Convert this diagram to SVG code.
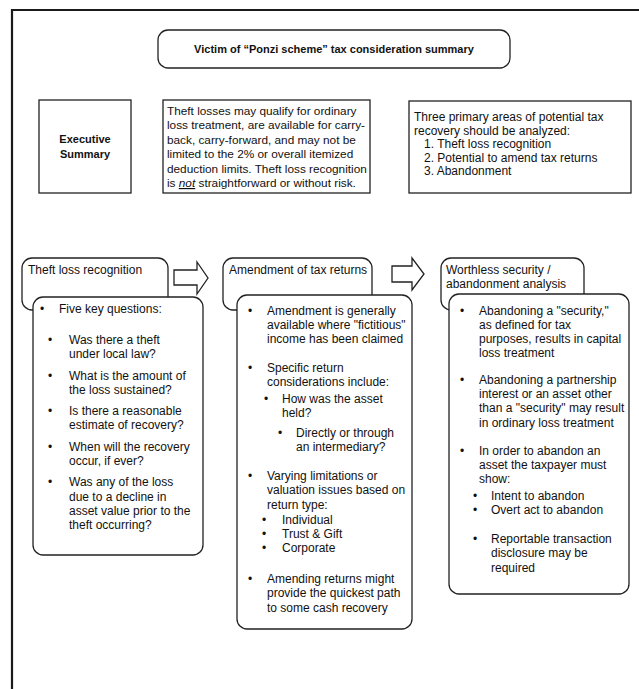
<svg xmlns="http://www.w3.org/2000/svg" width="639" height="689" viewBox="0 0 639 689">
<style>
  .frame{fill:none;stroke:#1a1a1a;stroke-width:2.2}
  .box{fill:#fff;stroke:#222;stroke-width:1.3}
  .t{font-family:"Liberation Sans",Arial,sans-serif;font-size:12px;fill:#111}
  .b{font-family:"Liberation Sans",Arial,sans-serif;font-size:11px;font-weight:bold;fill:#111}
  .arrow{fill:#fff;stroke:#222;stroke-width:1.3;stroke-linejoin:miter}
</style>
<rect width="639" height="689" fill="#fff"/>
<path class="frame" d="M12,689 V10 H639"/>

<g id="title">
  <rect class="box" x="158" y="30" width="352" height="38" rx="10"/>
  <text class="b" x="334" y="53" text-anchor="middle">Victim of “Ponzi scheme” tax consideration summary</text>
</g>

<g id="exec-summary">
  <rect class="box" x="39" y="100" width="92" height="93"/>
  <text class="b" x="85" y="143" text-anchor="middle">Executive</text>
  <text class="b" x="85" y="158" text-anchor="middle">Summary</text>
</g>

<g id="exec-text">
  <rect class="box" x="163" y="100" width="207" height="93"/>
  <text class="t" style="font-size:11.8px">
    <tspan x="167" y="115">Theft losses may qualify for ordinary</tspan>
    <tspan x="167" y="129.4">loss treatment, are available for carry-</tspan>
    <tspan x="167" y="143.8">back, carry-forward, and may not be</tspan>
    <tspan x="167" y="158.2">limited to the 2% or overall itemized</tspan>
    <tspan x="167" y="172.6">deduction limits. Theft loss recognition</tspan>
    <tspan x="167" y="187">is <tspan font-style="italic" text-decoration="underline">not</tspan> straightforward or without risk.</tspan>
  </text>
</g>

<g id="exec-areas">
  <rect class="box" x="409" y="101" width="222" height="92"/>
  <text class="t">
    <tspan x="414" y="121">Three primary areas of potential tax</tspan>
    <tspan x="414" y="134.5">recovery should be analyzed:</tspan>
    <tspan x="424" y="148">1. Theft loss recognition</tspan>
    <tspan x="424" y="161.5">2. Potential to amend tax returns</tspan>
    <tspan x="424" y="175">3. Abandonment</tspan>
  </text>
</g>

<g id="connectors">
  <path id="arrow-1" class="arrow" d="M174,270 H197 V262 L208,278 L197,294 V285 H174 Z"/>
  <path id="arrow-2" class="arrow" d="M392,266 H412 V258 L424,274 L412,290 V282 H392 Z"/>
</g>

<g id="theft-loss">
  <rect class="box" x="22" y="258" width="146" height="52" rx="10"/>
  <text class="t" x="28" y="274">Theft loss recognition</text>
  <rect class="box" x="33" y="297" width="170" height="258" rx="10"/>
  <text class="t">
    <tspan x="40" y="313">•</tspan><tspan x="59" y="313">Five key questions:</tspan>
    <tspan x="48" y="344">•</tspan><tspan x="69" y="344">Was there a theft</tspan>
    <tspan x="69" y="358">under local law?</tspan>
    <tspan x="48" y="380">•</tspan><tspan x="69" y="380">What is the amount of</tspan>
    <tspan x="69" y="394">the loss sustained?</tspan>
    <tspan x="48" y="415">•</tspan><tspan x="69" y="415">Is there a reasonable</tspan>
    <tspan x="69" y="429">estimate of recovery?</tspan>
    <tspan x="48" y="451">•</tspan><tspan x="69" y="451">When will the recovery</tspan>
    <tspan x="69" y="465">occur, if ever?</tspan>
    <tspan x="48" y="486">•</tspan><tspan x="69" y="486">Was any of the loss</tspan>
    <tspan x="69" y="501">due to a decline in</tspan>
    <tspan x="69" y="515">asset value prior to the</tspan>
    <tspan x="69" y="529">theft occurring?</tspan>
  </text>
</g>

<g id="amendment">
  <rect class="box" x="223" y="258" width="149" height="52" rx="10"/>
  <text class="t" x="229" y="274">Amendment of tax returns</text>
  <rect class="box" x="237" y="295" width="175" height="334" rx="10"/>
  <text class="t">
    <tspan x="248" y="315">•</tspan><tspan x="267" y="315">Amendment is generally</tspan>
    <tspan x="267" y="329">available where "fictitious"</tspan>
    <tspan x="267" y="343">income has been claimed</tspan>
    <tspan x="248" y="372">•</tspan><tspan x="267" y="372">Specific return</tspan>
    <tspan x="267" y="386">considerations include:</tspan>
    <tspan x="264" y="403">•</tspan><tspan x="282" y="403">How was the asset</tspan>
    <tspan x="282" y="417">held?</tspan>
    <tspan x="278" y="437">•</tspan><tspan x="296" y="437">Directly or through</tspan>
    <tspan x="296" y="451">an intermediary?</tspan>
    <tspan x="248" y="480">•</tspan><tspan x="267" y="480">Varying limitations or</tspan>
    <tspan x="267" y="494">valuation issues based on</tspan>
    <tspan x="267" y="509">return type:</tspan>
    <tspan x="262" y="524">•</tspan><tspan x="282" y="524">Individual</tspan>
    <tspan x="262" y="538">•</tspan><tspan x="282" y="538">Trust &amp; Gift</tspan>
    <tspan x="262" y="552">•</tspan><tspan x="282" y="552">Corporate</tspan>
    <tspan x="248" y="583">•</tspan><tspan x="267" y="583">Amending returns might</tspan>
    <tspan x="267" y="597">provide the quickest path</tspan>
    <tspan x="267" y="612">to some cash recovery</tspan>
  </text>
</g>

<g id="abandonment">
  <rect class="box" x="441" y="258" width="143" height="52" rx="10"/>
  <text class="t">
    <tspan x="446" y="274">Worthless security /</tspan>
    <tspan x="446" y="288">abandonment analysis</tspan>
  </text>
  <rect class="box" x="449" y="294" width="180" height="300" rx="10"/>
  <text class="t">
    <tspan x="460" y="315">•</tspan><tspan x="479" y="315">Abandoning a "security,"</tspan>
    <tspan x="479" y="329">as defined for tax</tspan>
    <tspan x="479" y="343">purposes, results in capital</tspan>
    <tspan x="479" y="357">loss treatment</tspan>
    <tspan x="460" y="384">•</tspan><tspan x="479" y="384">Abandoning a partnership</tspan>
    <tspan x="479" y="398">interest or an asset other</tspan>
    <tspan x="479" y="412">than a "security" may result</tspan>
    <tspan x="479" y="427">in ordinary loss treatment</tspan>
    <tspan x="460" y="455">•</tspan><tspan x="479" y="455">In order to abandon an</tspan>
    <tspan x="479" y="469">asset the taxpayer must</tspan>
    <tspan x="479" y="483">show:</tspan>
    <tspan x="473" y="500">•</tspan><tspan x="491" y="500">Intent to abandon</tspan>
    <tspan x="473" y="514">•</tspan><tspan x="491" y="514">Overt act to abandon</tspan>
    <tspan x="473" y="543">•</tspan><tspan x="491" y="543">Reportable transaction</tspan>
    <tspan x="491" y="557">disclosure may be</tspan>
    <tspan x="491" y="572">required</tspan>
  </text>
</g>
</svg>
